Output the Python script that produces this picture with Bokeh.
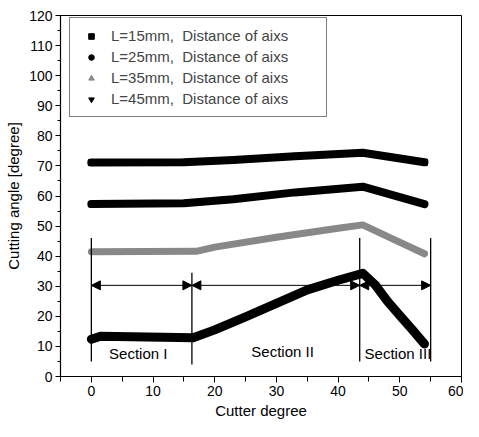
from bokeh.plotting import figure
from bokeh.models import (Range1d, SingleIntervalTicker, Legend, LegendItem,
                          Arrow, NormalHead)
from bokeh.core.properties import value
from bokeh.embed import file_html
from bokeh.resources import INLINE

# ---------------- data ----------------
cutter_15 = [0, 15, 23, 33, 44, 54]
angle_15 = [71.1, 71.2, 72.0, 73.2, 74.4, 71.2]

cutter_25 = [0, 15, 23, 33, 44, 54]
angle_25 = [57.3, 57.6, 58.9, 61.2, 63.1, 57.3]

cutter_35 = [0, 17, 20, 30, 40, 44, 49, 54]
angle_35 = [41.5, 41.6, 43.0, 46.3, 49.3, 50.4, 45.6, 40.8]

cutter_45 = [0, 1.5, 16.5, 20, 25, 30, 35, 40, 44, 46, 48, 50, 52, 54]
angle_45 = [12.4, 13.4, 12.9, 15.5, 19.8, 24.3, 28.8, 32.0, 34.3, 30.5, 25.0, 20.3, 15.6, 10.8]

labels = ["L=15mm,  Distance of aixs", "L=25mm,  Distance of aixs",
          "L=35mm,  Distance of aixs", "L=45mm,  Distance of aixs"]

section_bounds = [0, 16.3, 43.5, 55]
section_line_top = [46, 34.5, 46, 46]
section_line_bottom = [5, 4, 5, 5]
arrow_level = 30.3
section_names = ["Section I", "Section II", "Section III"]
section_label_x = [7.6, 31.0, 49.7]
section_label_y = [7.8, 8.4, 7.6]

FONT = "Liberation Sans"

p = figure(width=463, height=421, output_backend="svg", toolbar_location=None,
           x_range=Range1d(-5, 60), y_range=Range1d(0, 120),
           min_border_left=60, min_border_right=2, min_border_top=15,
           min_border_bottom=44)
p.grid.visible = False
p.outline_line_color = "black"
p.outline_line_width = 1
p.background_fill_color = "white"
p.border_fill_color = "white"

p.xaxis.ticker = SingleIntervalTicker(interval=10, num_minor_ticks=2)
p.yaxis.ticker = SingleIntervalTicker(interval=10, num_minor_ticks=2)
for ax in (p.xaxis, p.yaxis):
    ax.axis_line_color = "black"
    ax.axis_line_width = 1.2
    ax.major_tick_line_color = "black"
    ax.minor_tick_line_color = "black"
    ax.major_tick_in = 0
    ax.minor_tick_in = 0
    ax.major_label_text_font = FONT
    ax.major_label_text_font_size = "14px"
    ax.major_label_text_color = "black"
    ax.axis_label_text_font = FONT
    ax.axis_label_text_font_size = "15px"
    ax.axis_label_text_font_style = "normal"
    ax.axis_label_text_color = "black"
p.xaxis.major_tick_out = 6
p.xaxis.minor_tick_out = 5
p.yaxis.major_tick_out = 5
p.yaxis.minor_tick_out = 3
p.xaxis.major_label_standoff = 3
p.yaxis.major_label_standoff = 3
p.xaxis.axis_label_standoff = 3
p.yaxis.axis_label_standoff = 4
p.xaxis.axis_label = "Cutter degree"
p.yaxis.axis_label = "Cutting angle [degree]"

# series lines (thick) + markers
series = [
    (cutter_15, angle_15, "black", "square", 8),
    (cutter_25, angle_25, "black", "circle", 8),
    (cutter_35, angle_35, "#888888", "triangle", 7),
    (cutter_45, angle_45, "black", "inverted_triangle", 9),
]
items = []
for (xs, ys, col, mk, lw), lab in zip(series, labels):
    p.line(xs, ys, line_color=col, line_width=lw, line_join="round", line_cap="round")
    r = p.scatter(xs, ys, marker=mk, size=lw - 2, fill_color=col, line_color=col)
    items.append(LegendItem(label=lab, renderers=[r]))

# section boundary lines
p.segment(x0=section_bounds, y0=section_line_bottom, x1=section_bounds,
          y1=section_line_top, line_color="black", line_width=1.3)

# double headed arrows
for a, b in zip(section_bounds[:-1], section_bounds[1:]):
    p.add_layout(Arrow(x_start=a, y_start=arrow_level, x_end=b, y_end=arrow_level,
                       line_color="black", line_width=1,
                       start=NormalHead(size=9, fill_color="black", line_color="black"),
                       end=NormalHead(size=9, fill_color="black", line_color="black")))

p.text(x=section_label_x, y=section_label_y, text=section_names,
       text_font=value(FONT), text_font_size="15px", text_align="center",
       text_baseline="middle", text_color="black")

legend = Legend(items=items, location=(9, 259))
legend.label_text_font = FONT
legend.label_text_font_size = "15px"
legend.label_height = 21
legend.glyph_height = 14
legend.glyph_width = 28
legend.label_standoff = 6
legend.label_width = 208
legend.spacing = 0
legend.padding = 7
legend.margin = 0
legend.border_line_color = "black"
legend.border_line_width = 1
legend.background_fill_color = "white"
legend.background_fill_alpha = 1
p.add_layout(legend)

open("out.html", "w").write(file_html(p, INLINE))
